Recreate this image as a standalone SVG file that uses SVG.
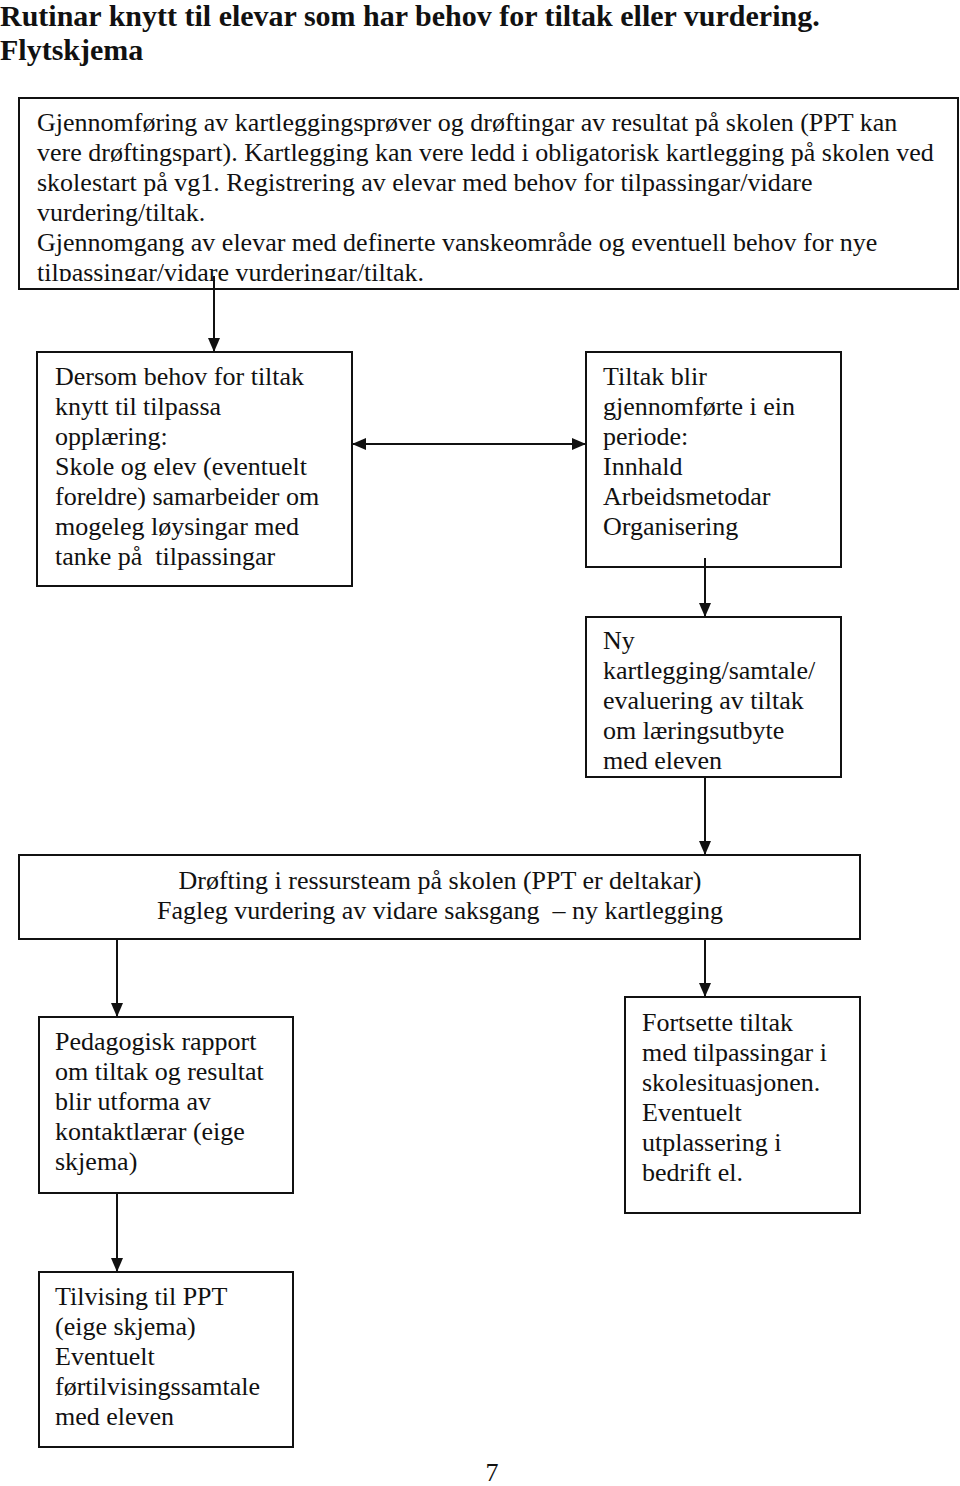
<svg xmlns="http://www.w3.org/2000/svg" width="960" height="1486" viewBox="0 0 960 1486">
<style>
text{font-family:"Liberation Serif","Times New Roman",serif;font-size:26px;fill:#111;white-space:pre}
.title{font-weight:bold;font-size:30px}
.box{fill:#fff;stroke:#111;stroke-width:2}
.edge{stroke:#111;stroke-width:2;fill:none}
</style>
<defs>
<marker id="ah" viewBox="0 0 14 12" refX="14" refY="6" markerWidth="14" markerHeight="12" markerUnits="userSpaceOnUse" orient="auto-start-reverse">
<path d="M0,0 L14,6 L0,12 Z" fill="#111"/>
</marker>
<clipPath id="clipTop"><rect x="19" y="98" width="939" height="183"/></clipPath>
</defs>
<g id="title">
<text class="title" x="0" y="26">Rutinar knytt til elevar som har behov for tiltak eller vurdering.</text>
<text class="title" x="0" y="60">Flytskjema</text>
</g>
<g id="n1">
<rect class="box" x="19" y="98" width="939" height="191"/>
<g clip-path="url(#clipTop)">
<text x="37" y="131">Gjennomføring av kartleggingsprøver og drøftingar av resultat på skolen (PPT kan</text>
<text x="37" y="161">vere drøftingspart). Kartlegging kan vere ledd i obligatorisk kartlegging på skolen ved</text>
<text x="37" y="191">skolestart på vg1. Registrering av elevar med behov for tilpassingar/vidare</text>
<text x="37" y="221">vurdering/tiltak.</text>
<text x="37" y="251">Gjennomgang av elevar med definerte vanskeområde og eventuell behov for nye</text>
<text x="37" y="281">tilpassingar/vidare vurderingar/tiltak.</text>
</g>
</g>
<g id="n2">
<rect class="box" x="37" y="352" width="315" height="234"/>
<text x="55" y="385">Dersom behov for tiltak</text>
<text x="55" y="415">knytt til tilpassa</text>
<text x="55" y="445">opplæring:</text>
<text x="55" y="475">Skole og elev (eventuelt</text>
<text x="55" y="505">foreldre) samarbeider om</text>
<text x="55" y="535">mogeleg løysingar med</text>
<text x="55" y="565">tanke på  tilpassingar</text>
</g>
<g id="n3">
<rect class="box" x="586" y="352" width="255" height="215"/>
<text x="603" y="385">Tiltak blir</text>
<text x="603" y="415">gjennomførte i ein</text>
<text x="603" y="445">periode:</text>
<text x="603" y="475">Innhald</text>
<text x="603" y="505">Arbeidsmetodar</text>
<text x="603" y="535">Organisering</text>
</g>
<g id="n4">
<rect class="box" x="586" y="617" width="255" height="160"/>
<text x="603" y="649">Ny</text>
<text x="603" y="679">kartlegging/samtale/</text>
<text x="603" y="709">evaluering av tiltak</text>
<text x="603" y="739">om læringsutbyte</text>
<text x="603" y="769">med eleven</text>
</g>
<g id="n5">
<rect class="box" x="19" y="855" width="841" height="84"/>
<text x="440" y="889" text-anchor="middle">Drøfting i ressursteam på skolen (PPT er deltakar)</text>
<text x="440" y="919" text-anchor="middle">Fagleg vurdering av vidare saksgang  – ny kartlegging</text>
</g>
<g id="n6">
<rect class="box" x="39" y="1017" width="254" height="176"/>
<text x="55" y="1050">Pedagogisk rapport</text>
<text x="55" y="1080">om tiltak og resultat</text>
<text x="55" y="1110">blir utforma av</text>
<text x="55" y="1140">kontaktlærar (eige</text>
<text x="55" y="1170">skjema)</text>
</g>
<g id="n7">
<rect class="box" x="625" y="997" width="235" height="216"/>
<text x="642" y="1031">Fortsette tiltak</text>
<text x="642" y="1061">med tilpassingar i</text>
<text x="642" y="1091">skolesituasjonen.</text>
<text x="642" y="1121">Eventuelt</text>
<text x="642" y="1151">utplassering i</text>
<text x="642" y="1181">bedrift el.</text>
</g>
<g id="n8">
<rect class="box" x="39" y="1272" width="254" height="175"/>
<text x="55" y="1305">Tilvising til PPT</text>
<text x="55" y="1335">(eige skjema)</text>
<text x="55" y="1365">Eventuelt</text>
<text x="55" y="1395">førtilvisingssamtale</text>
<text x="55" y="1425">med eleven</text>
</g>
<g id="connectors">
<line class="edge" x1="214" y1="276" x2="214" y2="352" marker-end="url(#ah)"/>
<line class="edge" x1="352" y1="444" x2="586" y2="444" marker-start="url(#ah)" marker-end="url(#ah)"/>
<line class="edge" x1="705" y1="558" x2="705" y2="617" marker-end="url(#ah)"/>
<line class="edge" x1="705" y1="777" x2="705" y2="855" marker-end="url(#ah)"/>
<line class="edge" x1="117" y1="939" x2="117" y2="1017" marker-end="url(#ah)"/>
<line class="edge" x1="705" y1="939" x2="705" y2="997" marker-end="url(#ah)"/>
<line class="edge" x1="117" y1="1193" x2="117" y2="1272" marker-end="url(#ah)"/>
</g>
<text x="492" y="1481" text-anchor="middle">7</text>
</svg>
